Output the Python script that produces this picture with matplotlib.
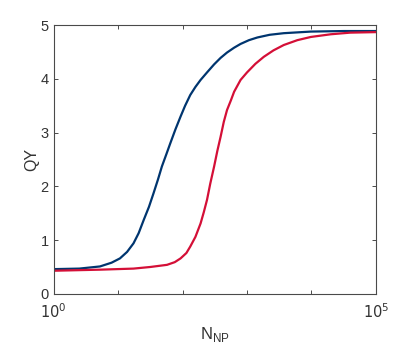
import matplotlib.pyplot as plt
from matplotlib.ticker import FixedLocator, FixedFormatter

# log10(N_NP) and QY
blue_logn = [0.0, 0.40, 0.72, 0.90, 1.03, 1.14, 1.24, 1.32, 1.40, 1.48, 1.55, 1.62, 1.68,
             1.75, 1.81, 1.89, 1.97, 2.04, 2.12, 2.20, 2.28, 2.38, 2.49, 2.59, 2.69, 2.80,
             2.90, 3.03, 3.16, 3.35, 3.57, 3.99, 4.50, 5.00]
blue_qy = [0.46, 0.47, 0.51, 0.58, 0.66, 0.78, 0.94, 1.13, 1.38, 1.62, 1.87, 2.13, 2.37,
           2.60, 2.80, 3.06, 3.30, 3.50, 3.70, 3.85, 3.98, 4.12, 4.27, 4.39, 4.49, 4.58,
           4.65, 4.72, 4.77, 4.82, 4.85, 4.88, 4.89, 4.89]

red_logn = [0.0, 0.72, 1.24, 1.50, 1.76, 1.88, 1.97, 2.06, 2.12, 2.20, 2.28, 2.33, 2.38,
            2.43, 2.49, 2.54, 2.59, 2.64, 2.69, 2.75, 2.80, 2.90, 3.00, 3.13, 3.26, 3.41,
            3.57, 3.78, 3.99, 4.30, 4.60, 5.00]
red_qy = [0.43, 0.45, 0.47, 0.50, 0.54, 0.59, 0.66, 0.76, 0.88, 1.06, 1.31, 1.52, 1.75,
          2.05, 2.37, 2.66, 2.92, 3.20, 3.42, 3.60, 3.76, 3.98, 4.12, 4.28, 4.41, 4.53,
          4.63, 4.72, 4.78, 4.83, 4.86, 4.87]

plt.rcParams["font.family"] = ["Liberation Sans", "DejaVu Sans"]

fig = plt.figure(figsize=(4.15, 3.49), dpi=100)
ax = fig.add_axes([0.129, 0.158, 0.777, 0.770])

ax.plot([10 ** v for v in blue_logn], blue_qy, color="#00356f", linewidth=1.6,
        solid_joinstyle="round")
ax.plot([10 ** v for v in red_logn], red_qy, color="#d40f37", linewidth=1.6,
        solid_joinstyle="round")

ax.set_xscale("log")
ax.set_xlim(1, 1e5)
ax.set_ylim(0, 5)

ax.xaxis.set_major_locator(FixedLocator([1, 10, 100, 1000, 10000, 100000]))
ax.xaxis.set_major_formatter(FixedFormatter(["$10^0$", "", "", "", "", "$10^5$"]))
ax.xaxis.set_minor_locator(FixedLocator([]))
ax.set_yticks([0, 1, 2, 3, 4, 5])

edge = "#4a4a4a"
for spine in ax.spines.values():
    spine.set_color(edge)
    spine.set_linewidth(0.8)
ax.tick_params(direction="in", top=True, right=True, length=3, width=0.7,
               colors=edge, labelcolor="#333333", labelsize=10.5)
ax.tick_params(axis="x", pad=6)

ax.set_xlabel("N$_{\\mathregular{NP}}$", fontsize=12, color="#333333", labelpad=3)
ax.set_ylabel("QY", fontsize=11.5, color="#333333", labelpad=1)

fig.savefig("out.png", dpi=100)
